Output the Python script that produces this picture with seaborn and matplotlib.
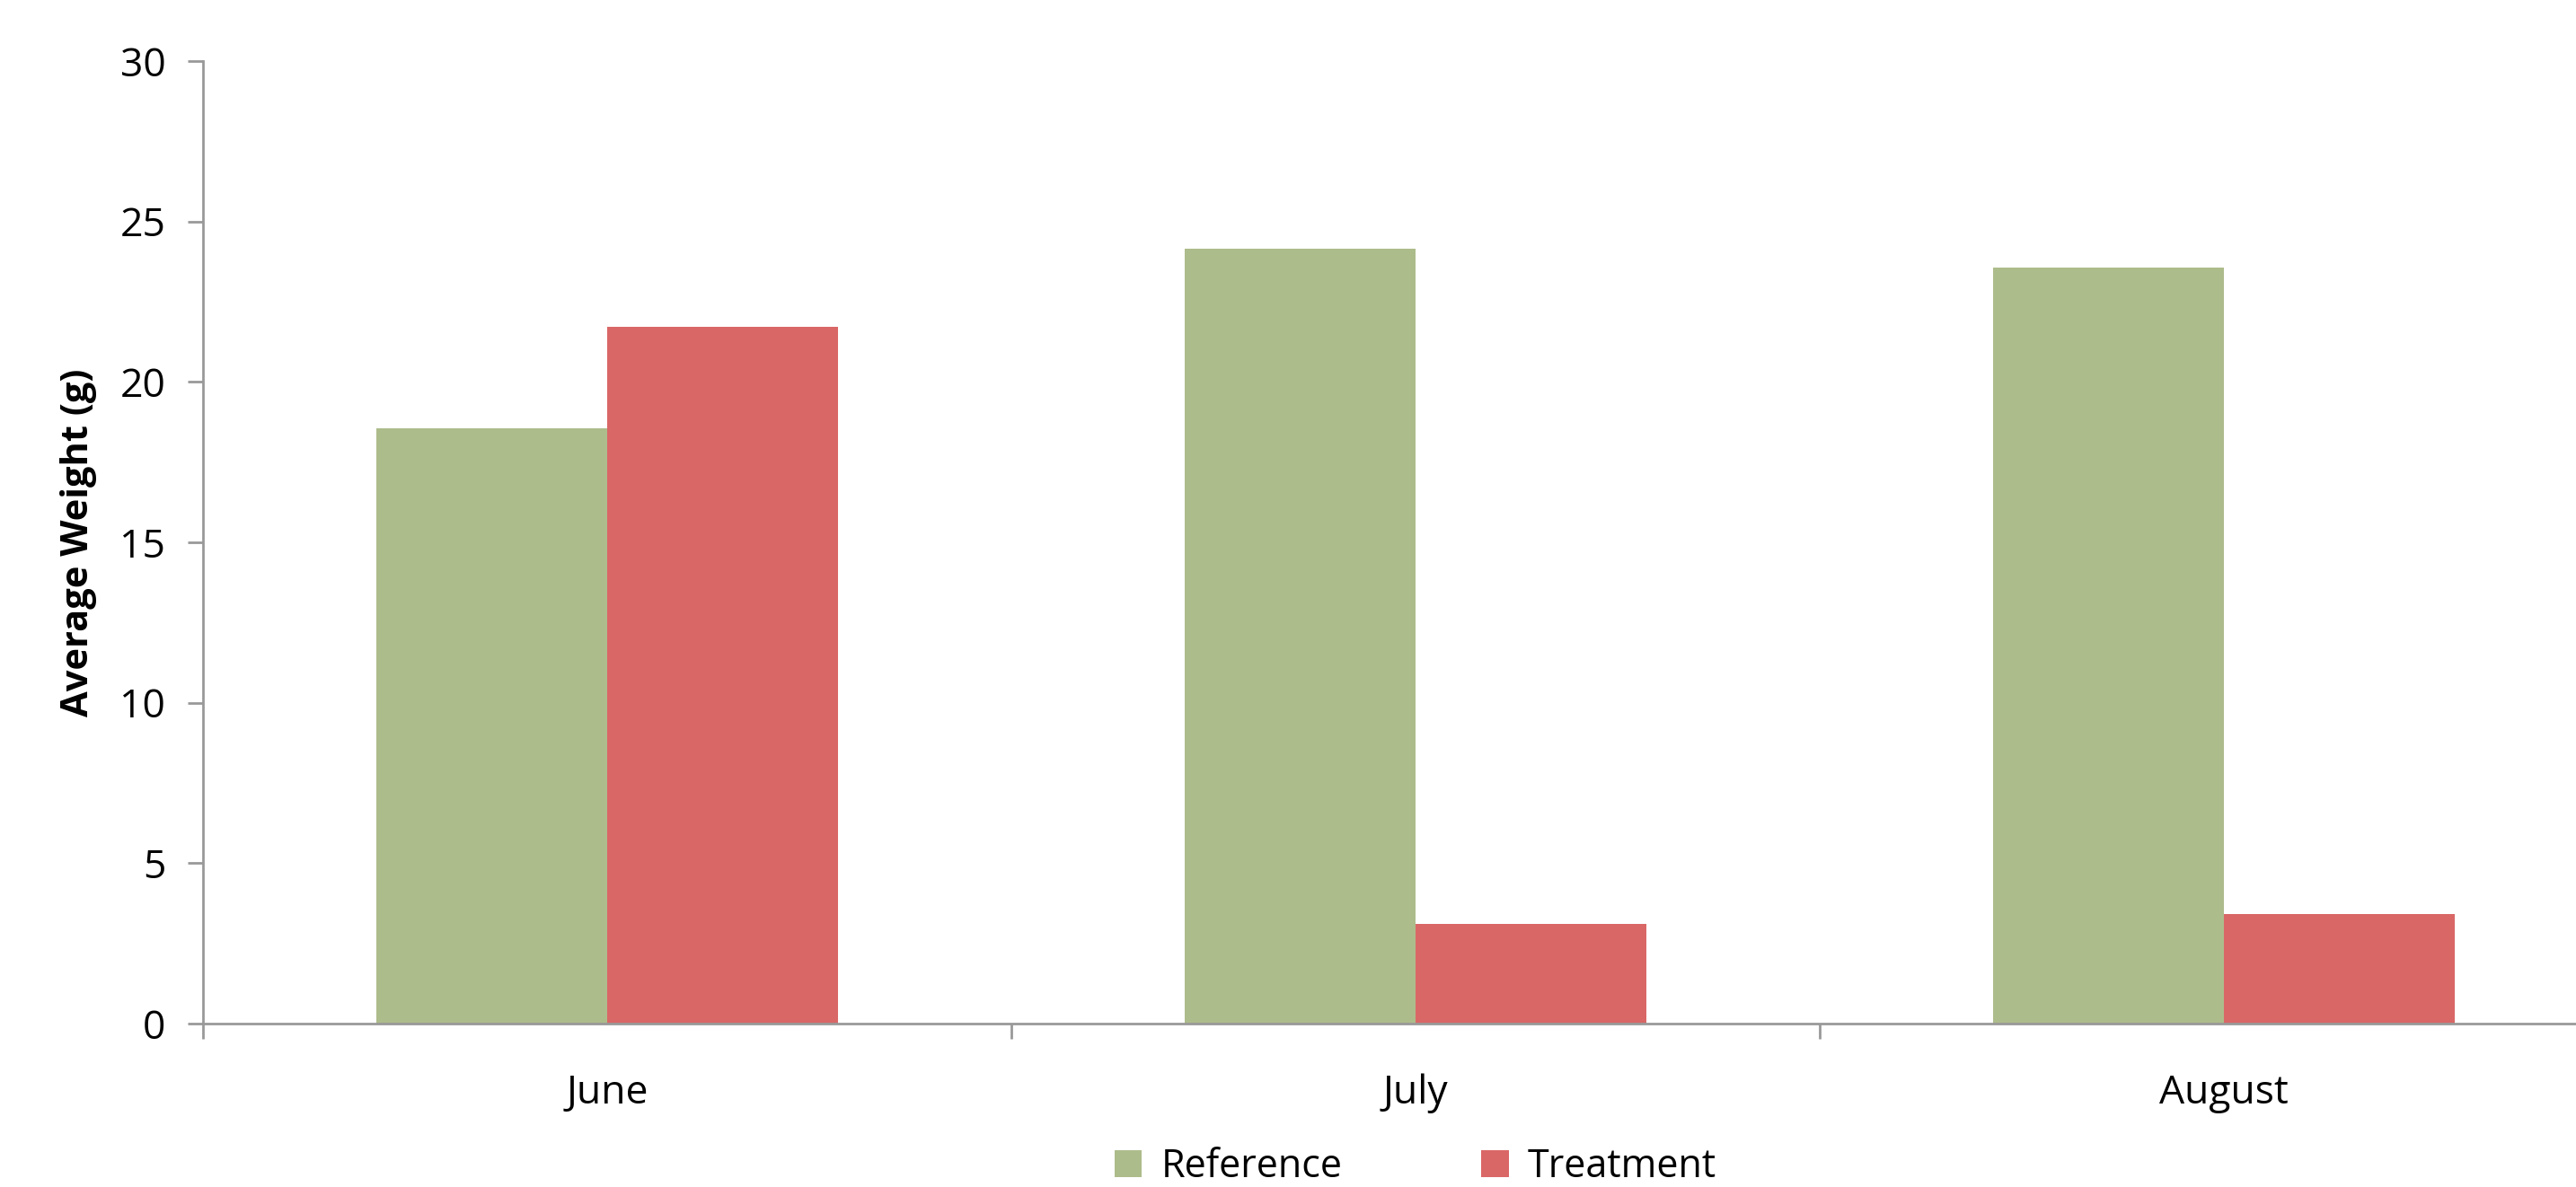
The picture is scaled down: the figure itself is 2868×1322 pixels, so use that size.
import matplotlib
matplotlib.use("Agg")
import matplotlib.pyplot as plt
import seaborn as sns
import pandas as pd

months = ["June", "July", "August"]
reference = [18.55, 24.15, 23.55]
treatment = [21.7, 3.1, 3.4]
series = ["Reference", "Treatment"]
colors = ["#ADBC8B", "#D96766"]

df = pd.DataFrame({
    "Month": months * 2,
    "Weight": reference + treatment,
    "Group": [series[0]] * 3 + [series[1]] * 3,
})

sns.set_style("white")
plt.rcParams["font.family"] = ["Open Sans", "DejaVu Sans"]
plt.rcParams["text.color"] = "black"
plt.rcParams["axes.labelcolor"] = "black"
plt.rcParams["xtick.color"] = "black"
plt.rcParams["ytick.color"] = "black"

fig = plt.figure(figsize=(28.68, 13.22), dpi=100)
ax = fig.add_axes([0.0788, 0.1377, 0.9414, 0.811])

sns.barplot(data=df, x="Month", y="Weight", hue="Group", palette=colors,
            width=0.5714, saturation=1, ax=ax, linewidth=0)

ax.set_xlim(-0.5, 2.5)
ax.set_ylim(0, 30)
ax.set_yticks(range(0, 31, 5))
ax.set_xlabel("")
ax.set_ylabel("Average Weight (g)", fontsize=30, fontweight="bold", labelpad=18)

# category dividers as minor ticks, labels centred on major ticks
ax.set_xticks([-0.5, 0.5, 1.5, 2.5], minor=True)
ax.tick_params(axis="x", which="both", bottom=True)
ax.tick_params(axis="y", which="both", left=True)
ax.tick_params(axis="x", which="major", length=0, pad=40, labelsize=32, labelcolor="black")
ax.tick_params(axis="x", which="minor", length=12, width=2, color="#999999", direction="out")
ax.tick_params(axis="y", length=12, width=2, color="#999999", direction="out", pad=18,
               labelsize=32, labelcolor="black")

sns.despine(ax=ax)
for s in ["left", "bottom"]:
    ax.spines[s].set_color("#999999")
    ax.spines[s].set_linewidth(2)

sns.move_legend(ax, "lower center", bbox_to_anchor=(0.5, -0.206), ncol=2, title=None,
                frameon=False, fontsize=31, handlelength=0.7, handleheight=0.7,
                handletextpad=0.5, columnspacing=3.6)
for t in ax.get_legend().get_texts():
    t.set_color("black")

fig.savefig("out.png", dpi=100)
